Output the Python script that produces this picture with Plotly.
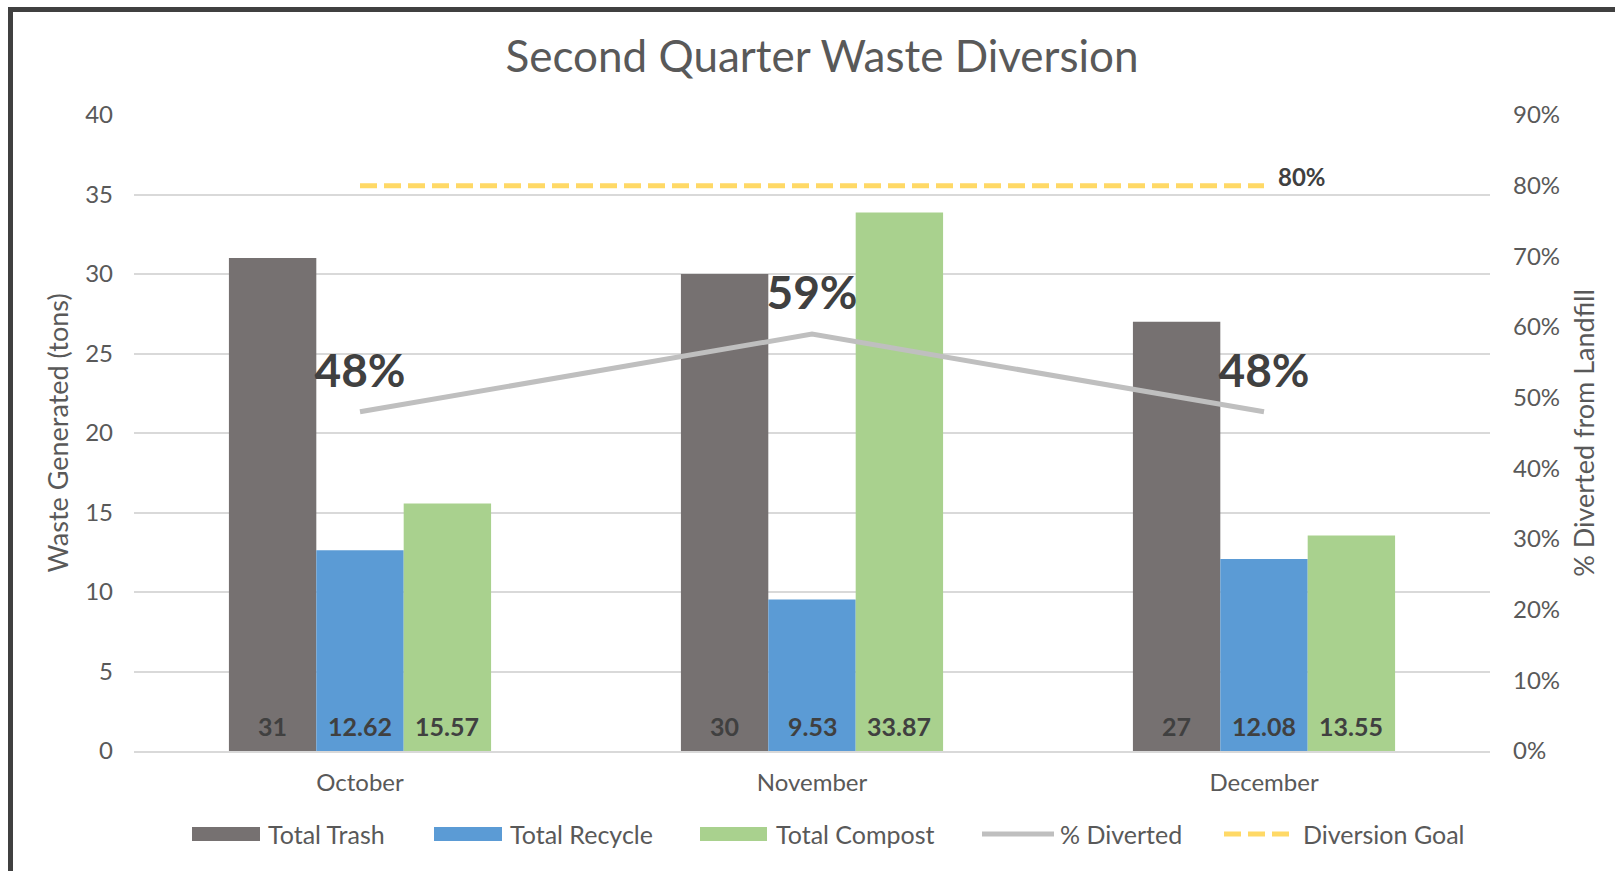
import plotly.graph_objects as go

# ---- data ----
months = ["October", "November", "December"]
total_trash = [31, 30, 27]
total_recycle = [12.62, 9.53, 12.08]
total_compost = [15.57, 33.87, 13.55]
pct_diverted = [0.48, 0.59, 0.48]
diversion_goal = [0.80, 0.80, 0.80]

# ---- styling ----
W, H = 1615, 871
ML, MR, MT, MB = 134, 125, 115, 120
FONT = "Lato"
TEXT_GREY = "#595959"
LABEL_DARK = "#404040"
C_TRASH = "#767171"
C_RECYCLE = "#5B9BD5"
C_COMPOST = "#A9D18E"
C_DIVERTED = "#BFBFBF"
C_GOAL = "#FFD966"
GRID = "#D9D9D9"
BARGAP = 0.42

plot_w = W - ML - MR
plot_h = H - MT - MB


def px_x(px):
    return (px - ML) / plot_w


def px_y(py):
    return (H - MB - py) / plot_h


fig = go.Figure()

series = [
    ("Total Trash", total_trash, C_TRASH),
    ("Total Recycle", total_recycle, C_RECYCLE),
    ("Total Compost", total_compost, C_COMPOST),
]
for name, vals, color in series:
    fig.add_trace(go.Bar(
        x=months, y=vals, name=name, marker=dict(color=color, line=dict(width=0)),
        showlegend=False, yaxis="y",
    ))

# % diverted line on the secondary axis
fig.add_trace(go.Scatter(
    x=months, y=pct_diverted, name="% Diverted", mode="lines",
    line=dict(color=C_DIVERTED, width=5), yaxis="y2", showlegend=False,
))
# large percentage labels above each point
fig.add_trace(go.Scatter(
    x=months, y=pct_diverted, mode="markers+text",
    marker=dict(size=20, color="rgba(0,0,0,0)"),
    texttemplate="%{y:.0%}", textposition="top center",
    textfont=dict(family=FONT, size=46, color=LABEL_DARK, weight="bold"),
    yaxis="y2", showlegend=False, hoverinfo="skip",
))

# diversion goal dashed line
fig.add_trace(go.Scatter(
    x=months, y=diversion_goal, name="Diversion Goal", mode="lines",
    line=dict(color=C_GOAL, width=5, dash="17px,7px"),
    yaxis="y2", showlegend=False,
))

annotations = []

# value labels at the base of each bar
slot_px = plot_w / len(months)
bar_px = slot_px * (1 - BARGAP) / len(series)
for k, (name, vals, color) in enumerate(series):
    shift = (k - (len(series) - 1) / 2) * bar_px
    for m, v in zip(months, vals):
        annotations.append(dict(
            x=m, y=0, xref="x", yref="y", text=f"{v:g}", showarrow=False,
            xanchor="center", yanchor="bottom", xshift=shift, yshift=8,
            font=dict(family=FONT, size=25, color=LABEL_DARK, weight="bold"),
        ))

# goal value printed at the end of the goal line
annotations.append(dict(
    x=months[-1], y=diversion_goal[-1], xref="x", yref="y2",
    text=f"{diversion_goal[-1]:.0%}", showarrow=False,
    xanchor="left", yanchor="middle", xshift=12, yshift=9,
    font=dict(family=FONT, size=24, color=LABEL_DARK, weight="bold"),
))

# ---- custom legend ----
shapes = []
leg_y = 834
legend_items = [
    ("Total Trash", "bar", C_TRASH, 192, 260, 266),
    ("Total Recycle", "bar", C_RECYCLE, 434, 502, 508),
    ("Total Compost", "bar", C_COMPOST, 700, 767, 774),
    ("% Diverted", "line", C_DIVERTED, 982, 1054, 1058),
    ("Diversion Goal", "dash", C_GOAL, 1224, 1290, 1301),
]
for label, kind, color, x0, x1, tx in legend_items:
    if kind == "bar":
        shapes.append(dict(type="rect", xref="paper", yref="paper",
                           x0=px_x(x0), x1=px_x(x1), y0=px_y(leg_y + 7), y1=px_y(leg_y - 7),
                           fillcolor=color, line=dict(width=0)))
    else:
        shapes.append(dict(type="line", xref="paper", yref="paper",
                           x0=px_x(x0), x1=px_x(x1), y0=px_y(leg_y), y1=px_y(leg_y),
                           line=dict(color=color, width=5,
                                     dash="17px,7px" if kind == "dash" else "solid")))
    annotations.append(dict(text=label, xref="paper", yref="paper",
                            x=px_x(tx), y=px_y(leg_y), xanchor="left", yanchor="middle",
                            showarrow=False, font=dict(family=FONT, size=25, color=TEXT_GREY)))

# dark frame around the chart
shapes.append(dict(type="rect", xref="paper", yref="paper",
                   x0=px_x(10.5), y0=px_y(9.5), x1=px_x(W + 40), y1=px_y(H + 40),
                   line=dict(color="#404040", width=5), fillcolor="rgba(0,0,0,0)",
                   layer="above"))

fig.update_layout(
    width=W, height=H,
    margin=dict(l=ML, r=MR, t=MT, b=MB, autoexpand=False),
    paper_bgcolor="white", plot_bgcolor="white",
    barmode="group", bargap=BARGAP, bargroupgap=0,
    showlegend=False,
    font=dict(family=FONT, color=TEXT_GREY),
    title=dict(text="Second Quarter Waste Diversion",
               font=dict(family=FONT, size=44, color=TEXT_GREY),
               x=0.509, xref="container", xanchor="center",
               y=1 - 57 / H, yref="container", yanchor="middle"),
    xaxis=dict(showline=True, linecolor=GRID, linewidth=1.5, showgrid=False,
               ticks="", tickfont=dict(family=FONT, size=24, color=TEXT_GREY),
               ticklabelstandoff=9),
    yaxis=dict(range=[0, 40], dtick=5, showgrid=True, gridcolor=GRID, gridwidth=1.5,
               zeroline=False, showline=False, ticks="",
               tickfont=dict(family=FONT, size=24, color=TEXT_GREY),
               ticklabelstandoff=20,
               title=dict(text="Waste Generated (tons)", standoff=8,
                          font=dict(family=FONT, size=27, color=TEXT_GREY))),
    yaxis2=dict(range=[0, 0.9], dtick=0.1, tickformat=".0%", overlaying="y", side="right",
                showgrid=False, zeroline=False, showline=False, ticks="",
                tickfont=dict(family=FONT, size=24, color=TEXT_GREY),
                ticklabelstandoff=22,
                title=dict(text="% Diverted from Landfill", standoff=16,
                           font=dict(family=FONT, size=27, color=TEXT_GREY))),
    shapes=shapes,
    annotations=annotations,
)

fig.write_html("out.html")
